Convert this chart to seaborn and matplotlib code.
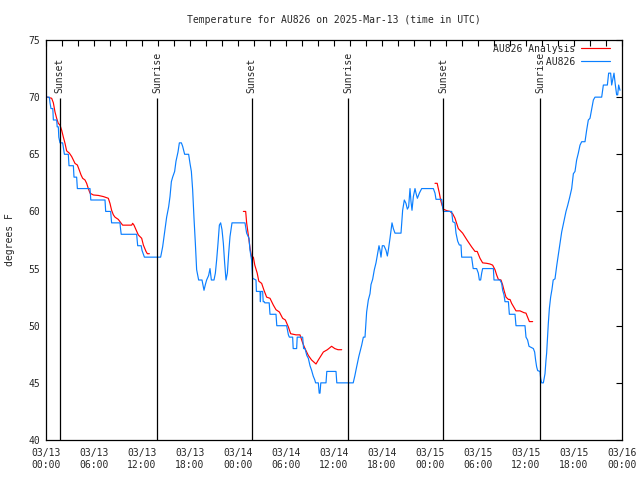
import numpy as np
import pandas as pd
import matplotlib
matplotlib.use("Agg")
import matplotlib.pyplot as plt
import matplotlib.dates as mdates
from matplotlib.lines import Line2D
import seaborn as sns

# ---------------- data (hours after 2025-03-13 00:00 UTC, degrees F) -------------
obs_hours = [
    0.0, 0.42, 0.5, 0.625, 0.85, 0.92, 1.33, 1.4, 1.54, 1.6, 1.75, 2.08, 2.17, 2.3, 2.79,
    2.875, 3.42, 3.5, 3.83, 3.92, 5.5, 5.6, 7.375, 7.46, 8.08, 8.2, 9.25, 9.3, 9.4, 11.33,
    11.46, 11.9, 12.0, 12.3, 14.25, 14.33, 14.58, 14.75, 14.92, 15.08, 15.33, 15.5, 15.67,
    15.83, 16.08, 16.25, 16.5, 16.67, 16.92, 17.08, 17.33, 17.83, 18.0, 18.17, 18.33, 18.5,
    18.67, 18.83, 19.08, 19.5, 19.75, 19.92, 20.08, 20.33, 20.5, 20.67, 21.0, 21.17, 21.33,
    21.5, 21.67, 21.83, 22.0, 22.17, 22.33, 22.5, 22.67, 22.83, 23.0, 23.25, 24.875, 25.08,
    25.375, 25.5, 25.7, 25.83, 26.25, 26.3, 26.75, 26.8, 26.85, 27.08, 27.15, 27.29, 27.35,
    27.9, 28.0, 28.75, 28.85, 30.08, 30.3, 30.42, 30.83, 30.9, 31.33, 31.4, 32.08, 32.2,
    32.375, 32.6, 32.79, 33.0, 33.2, 33.4, 33.6, 33.7, 34.04, 34.15, 34.25, 34.35, 35.0,
    35.1, 36.25, 36.35, 38.4, 38.6, 38.8, 39.1, 39.46, 39.67, 39.875, 40.08, 40.29, 40.5,
    40.625, 40.83, 41.04, 41.25, 41.42, 41.625, 41.75, 41.875, 42.04, 42.25, 42.5, 42.67,
    42.79, 43.0, 43.25, 43.42, 43.625, 44.375, 44.58, 44.79, 45.0, 45.17, 45.33, 45.5,
    45.625, 45.75, 45.92, 46.125, 46.25, 46.42, 46.67, 46.96, 48.42, 48.625, 48.75, 49.46,
    49.58, 49.67, 50.71, 50.85, 51.125, 51.25, 51.46, 51.67, 51.875, 51.96, 53.2, 53.4,
    53.83, 54.04, 54.17, 54.33, 54.46, 54.58, 55.92, 56.0, 56.75, 56.96, 57.08, 57.25,
    57.375, 57.8, 57.92, 58.625, 58.75, 59.875, 60.0, 60.2, 60.375, 60.92, 61.08, 61.2,
    61.33, 61.46, 61.75, 61.83, 61.96, 62.17, 62.375, 62.5, 62.58, 62.67, 62.79, 62.92,
    63.08, 63.25, 63.4, 63.625, 63.85, 64.04, 64.25, 64.46, 64.67, 64.875, 65.0, 65.2,
    65.45, 65.71, 65.92, 66.125, 66.33, 66.54, 66.75, 66.96, 67.375, 67.58, 67.79, 68.0,
    68.2, 68.42, 68.625, 69.46, 69.67, 70.17, 70.33, 70.58, 70.71, 71.0, 71.17, 71.33,
    71.46, 71.58, 71.75,
]
obs_temp = [
    70, 70, 69.5, 69, 69, 68, 68, 67.4, 67.4, 66.5, 66, 66, 65.6, 65, 65,
    64, 64, 63, 63, 62, 62, 61, 61, 60, 60, 59, 59, 58.6, 58, 58,
    57, 57, 56.6, 56, 56, 56, 56.9, 57.8, 58.7, 59.5, 60.4, 61.3, 62.6,
    63, 63.5, 64.4, 65.2, 66, 66, 65.7, 65, 65, 64.2, 63.5, 61.9, 59.4,
    57.2, 54.9, 54, 54, 53.1, 53.6, 54, 54.4, 55, 54, 54, 54.6, 55.75,
    57.2, 58.8, 59, 58.4, 57.2, 55.5, 54, 54.6, 56.3, 57.8, 59, 59, 58.1,
    57.65, 56.6, 55.75, 54.15, 54, 53, 53, 52.1, 53, 53, 52.1, 52.1, 52,
    52, 51, 51, 50, 50, 49.2, 49, 49, 48, 48, 49, 49, 48,
    48, 47.4, 47.15, 46.5, 46.1, 45.6, 45.25, 45, 45, 44.1, 44.1, 45, 45,
    46, 46, 45, 45, 45.6, 46.3, 47.3, 48.3, 49, 49, 51.2, 52.25, 52.8,
    53.6, 54.06, 54.9, 55.5, 56.2, 57, 56.6, 56, 57, 57, 56.6, 56.1,
    56.6, 57.65, 59, 58.5, 58.1, 58.1, 60.1, 61, 60.7, 60.2, 60.4, 62,
    60.85, 60.1, 61.3, 62, 61.6, 61.15, 61.6, 62, 62, 61.6, 61.06, 61.06,
    60.4, 60, 60, 59.1, 59, 58.1, 57.4, 57.06, 57.06, 56, 56, 55,
    55, 54.6, 54, 54, 54.6, 55, 55, 54, 54, 53.7, 53.1, 52.7,
    52.1, 52.1, 51, 51, 50, 50, 49, 48.75, 48.2, 48, 47.7, 47,
    46.4, 46.07, 46, 45.4, 45, 45, 45.8, 47, 47.6, 48.75, 50.2, 51.5,
    52.5, 53.2, 54, 54.1, 55.3, 56.2, 57.2, 58.2, 58.9, 59.6, 60, 60.5,
    61.2, 62, 63.3, 63.5, 64.5, 65.1, 65.8, 66.1, 66.1, 67.1, 68, 68.15,
    68.9, 69.75, 70, 70, 71.06, 71.06, 72.1, 72.1, 71.06, 72.1, 71.06, 70.2,
    70.2, 71.06, 70.6,
]

ana_hours = [
    0.17, 0.71, 0.92, 1.125, 1.33, 1.54, 1.75, 1.96, 2.17, 2.375, 2.58, 2.92, 3.21, 3.42,
    3.625, 3.92, 4.17, 4.375, 4.58, 4.875, 5.08, 5.29, 5.5, 5.92, 6.54, 7.17, 7.79, 8.0,
    8.2, 8.42, 8.625, 9.04, 9.25, 9.58, 10.08, 10.71, 10.83, 11.0, 11.25, 11.54, 11.96,
    12.17, 12.5, 12.67, 12.92,
    24.67, 24.96, 25.08, 25.375, 25.5, 25.7, 25.92, 26.1, 26.4, 26.6, 26.96, 27.25, 27.58,
    28.0, 28.42, 28.75, 29.17, 29.58, 29.92, 30.29, 30.58, 31.25, 31.75, 32.08, 32.375,
    32.79, 33.2, 33.75, 34.04, 34.67, 35.17, 35.7, 36.1, 36.5, 36.96,
    48.625, 48.9, 49.04, 49.17, 49.33, 49.5, 49.67, 50.08, 50.5, 50.83, 51.125, 51.54,
    52.08, 52.67, 53.2, 53.625, 53.9, 54.25, 54.58, 55.08, 55.5, 55.83, 56.125, 56.33,
    56.54, 56.875, 57.08, 57.25, 57.5, 57.8, 58.0, 58.2, 58.5, 58.75, 59.25, 59.75, 60.0,
    60.17, 60.42, 60.83,
]
ana_temp = [
    70.0, 69.9, 69.5, 68.7, 68.15, 67.7, 67.56, 67.1, 66.5, 65.96, 65.3, 65.1, 64.8, 64.5,
    64.2, 64.06, 63.6, 63.2, 62.9, 62.75, 62.46, 62.0, 61.6, 61.44, 61.4, 61.3, 61.15, 60.7,
    60.1, 59.7, 59.5, 59.3, 59.1, 58.8, 58.8, 58.8, 58.96, 58.8, 58.4, 57.94, 57.65,
    57.06, 56.5, 56.3, 56.3,
    60.0, 60.0, 59.0, 57.5, 56.8, 56.0, 56.0, 55.3, 54.6, 53.9, 53.7, 53.1, 52.5,
    52.4, 51.8, 51.4, 51.2, 50.65, 50.5, 49.9, 49.3, 49.2, 49.2, 48.5, 48.0,
    47.4, 47.0, 46.65, 47.0, 47.7, 47.9, 48.2, 48.0, 47.9, 47.9,
    62.46, 62.46, 62.0, 61.6, 61.0, 60.56, 60.2, 60.07, 60.0, 59.8, 59.4, 58.5,
    58.1, 57.45, 56.9, 56.5, 56.5, 55.9, 55.5, 55.46, 55.4, 55.3, 54.9, 54.44,
    54.06, 54.0, 53.57, 53.1, 52.5, 52.3, 52.3, 51.96, 51.6, 51.3, 51.3, 51.14, 51.1,
    50.8, 50.36, 50.36,
]
ana_segment = [0] * 45 + [1] * 35 + [2] * 40

sun_hours = [1.7, 13.88, 25.7, 37.8, 49.68, 61.8]
sun_labels = ["Sunset", "Sunrise", "Sunset", "Sunrise", "Sunset", "Sunrise"]

title = "Temperature for AU826 on 2025-Mar-13 (time in UTC)"
ylabel = "degrees F"
obs_name = "AU826"
ana_name = "AU826 Analysis"

# ---------------- build frames ---------------------------------------------------
start = pd.Timestamp("2025-03-13 00:00")
obs = pd.DataFrame({"time": start + pd.to_timedelta(obs_hours, unit="h"), "temp": obs_temp})
ana = pd.DataFrame({"time": start + pd.to_timedelta(ana_hours, unit="h"),
                    "temp": ana_temp, "seg": ana_segment})
sun_times = [start + pd.Timedelta(hours=h) for h in sun_hours]

# ---------------- plot -----------------------------------------------------------
sns.set_style("white")
plt.rcParams["font.family"] = ["DejaVu Sans Mono"]
plt.rcParams["font.size"] = 7

fig = plt.figure(figsize=(6.4, 4.8), dpi=100)
ax = fig.add_axes([46 / 640, 40 / 480, 576 / 640, 400 / 480])

RED = "#ff0000"
BLUE = "#0a7fff"
LW = 0.85

sns.lineplot(data=ana, x="time", y="temp", units="seg", estimator=None, sort=False,
             color=RED, linewidth=LW, ax=ax, legend=False)
sns.lineplot(data=obs, x="time", y="temp", estimator=None, sort=False,
             color=BLUE, linewidth=LW, ax=ax, legend=False)

ax.vlines(sun_times, 40, 69.9, color="black", linewidth=0.9)
for t, lab in zip(sun_times, sun_labels):
    ax.text(t, 70.4, lab, rotation=90, ha="center", va="bottom", fontsize=7)

ax.set_xlim(start, start + pd.Timedelta(hours=72))
ax.set_ylim(40, 75)
ax.set_yticks(np.arange(40, 76, 5))
ax.xaxis.set_major_locator(mdates.HourLocator(byhour=[0, 6, 12, 18]))
ax.xaxis.set_minor_locator(mdates.HourLocator(byhour=range(0, 24, 2)))
ax.xaxis.set_major_formatter(mdates.DateFormatter("%m/%d\n%H:%M"))
ax.tick_params(axis="both", which="both", direction="in", top=True, right=True,
               length=4, width=0.8, color="black", labelsize=7)
ax.tick_params(axis="x", which="major", pad=6)
ax.tick_params(axis="y", which="major", pad=4)
for s in ax.spines.values():
    s.set_color("black")
    s.set_linewidth(0.9)

ax.set_xlabel("")
ax.set_ylabel(ylabel, fontsize=7, labelpad=10)
ax.set_title(title, fontsize=7, pad=12.5)

# legend: monospace labels padded so the text is right-aligned like the reference
width = max(len(ana_name), len(obs_name))
handles = [Line2D([], [], color=RED, linewidth=LW), Line2D([], [], color=BLUE, linewidth=LW)]
labels = [ana_name.rjust(width), obs_name.rjust(width)]
ax.legend(handles, labels, loc="upper right", bbox_to_anchor=(0.986, 1.0),
          frameon=False, markerfirst=False, handlelength=3.0, handletextpad=0.6,
          labelspacing=0.3, borderaxespad=0.0, borderpad=0.4, fontsize=7)

fig.savefig("out.png", dpi=100)
